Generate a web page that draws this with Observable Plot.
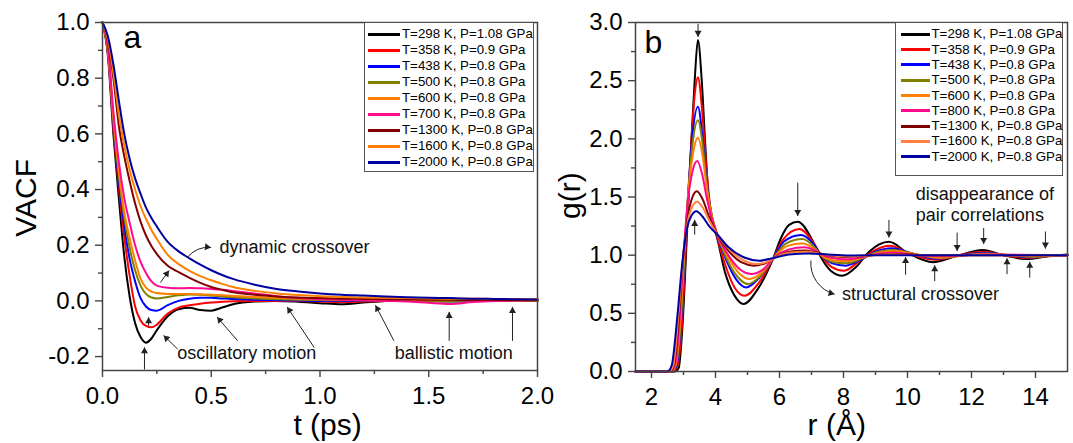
<!DOCTYPE html>
<html><head><meta charset="utf-8">
<script src="https://cdn.jsdelivr.net/npm/d3@7"></script>
<script src="https://cdn.jsdelivr.net/npm/@observablehq/plot@0.6"></script>
<style>
body{margin:0;background:#fff;font-family:"Liberation Sans",Arial,sans-serif;}
#wrap{position:relative;width:1073px;height:443px;overflow:hidden;background:#fff;}
#wrap svg{position:absolute;top:0;}
.legend{position:absolute;background:#fff;border:1px solid #555;box-sizing:border-box;font-size:13.3px;color:#000;}
.legend .sw{position:absolute;height:3px;}
.legend .tx{position:absolute;line-height:16px;white-space:nowrap;}
</style></head>
<body><div id="wrap"></div>
<script>
// ---------- Panel a: VACF ----------
const seriesA = ["T=298 K, P=1.08 GPa","T=358 K, P=0.9 GPa","T=438 K, P=0.8 GPa","T=500 K, P=0.8 GPa","T=600 K, P=0.8 GPa","T=700 K, P=0.8 GPa","T=1300 K, P=0.8 GPa","T=1600 K, P=0.8 GPa","T=2000 K, P=0.8 GPa"];
const colorsA = ["#000000","#ff0000","#0000ff","#808000","#ff8000","#ff0a8c","#800000","#ff8000","#0000a0"];
const tGrid = [0,0.025,0.05,0.075,0.1,0.125,0.15,0.175,0.2,0.225,0.25,0.3,0.35,0.4,0.45,0.5,0.55,0.6,0.7,0.8,0.9,1.0,1.1,1.2,1.3,1.4,1.5,1.6,1.7,1.8,1.9,2.0];
const vacf298  = [1.0,0.88,0.6,0.37,0.16,0.015,-0.08,-0.13,-0.15,-0.135,-0.105,-0.055,-0.03,-0.025,-0.033,-0.035,-0.024,-0.012,-0.002,0.0,-0.003,-0.008,-0.012,-0.006,0.0,0.002,0.0,-0.002,0.0,0.002,0.0,0.0];
const vacf358  = [1.0,0.89,0.62,0.41,0.23,0.09,-0.02,-0.07,-0.09,-0.095,-0.085,-0.045,-0.024,-0.016,-0.01,-0.006,-0.003,-0.001,0.0,0.0,0.0,-0.002,-0.004,-0.002,0.0,0.002,0.002,0.0,0.0,0.0,0.002,0.002];
const vacf438  = [1.0,0.9,0.64,0.43,0.27,0.15,0.07,0.01,-0.02,-0.033,-0.035,-0.015,0.0,0.008,0.011,0.011,0.009,0.007,0.004,0.002,0.001,0.0,0.0,0.001,0.002,0.002,0.001,0.0,0.001,0.002,0.002,0.002];
const vacf500  = [1.0,0.9,0.65,0.45,0.3,0.19,0.11,0.055,0.025,0.012,0.009,0.014,0.02,0.023,0.022,0.019,0.016,0.013,0.009,0.006,0.004,0.003,0.002,0.002,0.001,0.0,0.0,0.0,0.001,0.001,0.0,0.0];
const vacf600  = [1.0,0.9,0.66,0.47,0.32,0.225,0.145,0.08,0.048,0.033,0.028,0.025,0.025,0.025,0.024,0.022,0.02,0.018,0.014,0.011,0.008,0.006,0.005,0.004,0.004,0.004,0.005,0.006,0.007,0.007,0.006,0.006];
const vacf700  = [1.0,0.91,0.68,0.5,0.37,0.28,0.2,0.14,0.1,0.07,0.055,0.047,0.045,0.046,0.045,0.043,0.04,0.036,0.027,0.017,0.01,0.006,0.004,0.002,0.0,-0.002,-0.007,-0.011,-0.004,0.0,0.001,0.002];
const vacf1300 = [1.0,0.93,0.8,0.63,0.52,0.43,0.35,0.285,0.235,0.197,0.168,0.126,0.103,0.083,0.065,0.05,0.04,0.031,0.022,0.016,0.012,0.01,0.008,0.007,0.006,0.005,0.004,0.004,0.003,0.003,0.003,0.002];
const vacf1600 = [1.0,0.94,0.82,0.67,0.56,0.47,0.4,0.34,0.295,0.255,0.222,0.165,0.132,0.108,0.089,0.074,0.061,0.05,0.036,0.027,0.021,0.017,0.014,0.012,0.011,0.01,0.009,0.008,0.008,0.007,0.007,0.006];
const vacf2000 = [1.0,0.95,0.85,0.72,0.6,0.51,0.44,0.385,0.335,0.298,0.267,0.212,0.178,0.153,0.13,0.11,0.093,0.079,0.058,0.043,0.034,0.027,0.022,0.019,0.016,0.013,0.011,0.01,0.008,0.007,0.006,0.005];
const vacfAll = [vacf298,vacf358,vacf438,vacf500,vacf600,vacf700,vacf1300,vacf1600,vacf2000];

const xMajorA = [0,0.5,1,1.5,2], xMinorA = [0.25,0.75,1.25,1.75];
const yMajorA = [-0.2,0,0.2,0.4,0.6,0.8,1.0], yMinorA = [-0.1,0.1,0.3,0.5,0.7,0.9];

const arrowsA = [
  {x1:0.212,y1:-0.088,x2:0.212,y2:-0.06},
  {x1:0.267,y1:0.067,x2:0.305,y2:0.108},
  {x1:0.193,y1:-0.245,x2:0.193,y2:-0.168},
  {x1:0.344,y1:-0.172,x2:0.282,y2:-0.125},
  {x1:0.62,y1:-0.142,x2:0.528,y2:-0.059},
  {x1:0.972,y1:-0.166,x2:0.85,y2:-0.023},
  {x1:1.339,y1:-0.142,x2:1.256,y2:-0.017},
  {x1:1.594,y1:-0.142,x2:1.594,y2:-0.041},
  {x1:1.885,y1:-0.142,x2:1.885,y2:-0.023}
];
const curvedA = [{x1:0.39,y1:0.156,x2:0.497,y2:0.192}];
const notesA = [
  {x:0.538,y:0.194,text:"dynamic crossover"},
  {x:0.344,y:-0.188,text:"oscillatory motion"},
  {x:1.344,y:-0.189,text:"ballistic motion"}
];

// ---------- Panel b: g(r) ----------
const seriesB = ["T=298 K, P=1.08 GPa","T=358 K, P=0.9 GPa","T=438 K, P=0.8 GPa","T=500 K, P=0.8 GPa","T=600 K, P=0.8 GPa","T=800 K, P=0.8 GPa","T=1300 K, P=0.8 GPa","T=1600 K, P=0.8 GPa","T=2000 K, P=0.8 GPa"];
const colorsB = ["#000000","#ff0000","#0000ff","#808000","#ff8000","#ff0a8c","#800000","#ff8040","#0000a0"];
const gr298 = [[1.5,0],[2.72,0],[2.85,0.03],[2.97,0.4],[3.07,0.95],[3.16,1.5],[3.25,2.0],[3.35,2.5],[3.45,2.85],[3.57,2.5],[3.67,2.0],[3.78,1.5],[3.9,1.28],[4.03,1.17],[4.3,0.85],[4.6,0.65],[4.88,0.58],[5.3,0.7],[5.8,0.97],[6.05,1.15],[6.3,1.26],[6.57,1.288],[7.08,1.1],[7.3,0.98],[7.6,0.867],[7.97,0.824],[8.4,0.9],[8.8,1.03],[9.42,1.115],[10.0,1.02],[10.8,0.94],[11.5,0.99],[12.35,1.045],[13.0,1.0],[13.7,0.967],[14.4,0.99],[15,1.005]];
const gr358 = [[1.5,0],[2.68,0],[2.8,0.04],[2.95,0.4],[3.06,1.0],[3.15,1.5],[3.25,2.0],[3.37,2.43],[3.45,2.53],[3.58,2.25],[3.7,1.8],[3.82,1.45],[4.03,1.18],[4.3,0.92],[4.6,0.72],[4.91,0.651],[5.35,0.76],[5.8,0.97],[6.1,1.13],[6.62,1.225],[7.05,1.11],[7.3,1.0],[7.62,0.9],[8.02,0.867],[8.5,0.95],[8.9,1.03],[9.45,1.08],[10.1,1.01],[10.85,0.96],[11.6,1.0],[12.4,1.03],[13.0,1.0],[13.75,0.975],[14.5,0.995],[15,1.0]];
const gr438 = [[1.5,0],[2.65,0],[2.78,0.05],[2.93,0.45],[3.04,1.0],[3.14,1.5],[3.27,2.0],[3.45,2.275],[3.6,2.0],[3.72,1.65],[3.85,1.38],[4.05,1.17],[4.35,0.95],[4.65,0.79],[4.96,0.723],[5.35,0.8],[5.8,0.97],[6.15,1.12],[6.67,1.174],[7.05,1.1],[7.3,1.0],[7.65,0.93],[8.07,0.91],[8.6,0.97],[9.0,1.03],[9.5,1.06],[10.2,1.01],[10.9,0.97],[11.7,1.0],[12.4,1.02],[13.1,1.0],[13.8,0.98],[14.5,0.997],[15,1.0]];
const gr500 = [[1.5,0],[2.63,0],[2.76,0.05],[2.92,0.45],[3.03,1.0],[3.14,1.5],[3.28,1.95],[3.45,2.16],[3.6,1.95],[3.72,1.62],[3.86,1.37],[4.05,1.18],[4.35,0.97],[4.7,0.81],[5.01,0.752],[5.4,0.82],[5.8,0.97],[6.2,1.1],[6.72,1.139],[7.05,1.08],[7.3,1.0],[7.7,0.94],[8.1,0.93],[8.6,0.975],[9.1,1.03],[9.55,1.045],[10.3,1.005],[11.0,0.975],[11.8,1.0],[12.5,1.015],[13.2,1.0],[13.9,0.985],[14.6,0.998],[15,1.0]];
const gr600 = [[1.5,0],[2.62,0],[2.75,0.05],[2.9,0.45],[3.02,1.0],[3.14,1.5],[3.3,1.88],[3.45,2.01],[3.6,1.85],[3.73,1.57],[3.87,1.35],[4.05,1.18],[4.4,0.98],[4.75,0.84],[5.06,0.795],[5.45,0.85],[5.8,0.97],[6.25,1.08],[6.72,1.1],[7.05,1.06],[7.3,1.0],[7.7,0.955],[8.12,0.95],[8.6,0.98],[9.1,1.02],[9.6,1.035],[10.3,1.005],[11.0,0.98],[11.8,1.0],[12.5,1.01],[13.2,1.0],[13.9,0.99],[15,1.0]];
const gr800 = [[1.5,0],[2.6,0],[2.73,0.05],[2.88,0.45],[3.0,1.0],[3.13,1.45],[3.28,1.72],[3.43,1.81],[3.58,1.7],[3.72,1.5],[3.88,1.32],[4.05,1.18],[4.4,1.0],[4.8,0.87],[5.12,0.838],[5.5,0.88],[5.8,0.97],[6.3,1.05],[6.77,1.067],[7.1,1.04],[7.35,1.0],[7.8,0.97],[8.15,0.965],[8.6,0.985],[9.1,1.012],[9.6,1.02],[10.3,1.0],[11.0,0.99],[12.5,1.005],[15,1.0]];
const gr1300 = [[1.5,0],[2.57,0],[2.7,0.05],[2.85,0.45],[2.98,0.95],[3.12,1.3],[3.28,1.5],[3.42,1.55],[3.6,1.48],[3.8,1.33],[4.05,1.18],[4.4,1.04],[4.8,0.94],[5.22,0.91],[5.55,0.93],[5.8,0.97],[6.3,1.03],[6.82,1.04],[7.2,1.02],[7.5,1.0],[8.0,0.985],[8.5,0.99],[9.2,1.005],[9.7,1.01],[10.5,1.0],[15,1.0]];
const gr1600 = [[1.5,0],[2.55,0],[2.68,0.05],[2.83,0.45],[2.97,0.93],[3.12,1.27],[3.28,1.42],[3.42,1.46],[3.6,1.41],[3.8,1.3],[4.05,1.18],[4.4,1.06],[4.85,0.96],[5.27,0.924],[5.6,0.94],[5.8,0.97],[6.3,1.02],[6.85,1.03],[7.3,1.01],[8.0,0.99],[8.6,0.995],[9.5,1.005],[10.5,1.0],[15,1.0]];
const gr2000 = [[1.5,0],[2.5,0],[2.63,0.05],[2.8,0.45],[2.95,0.9],[3.1,1.22],[3.25,1.34],[3.4,1.377],[3.6,1.33],[3.8,1.25],[4.05,1.18],[4.4,1.07],[4.9,0.98],[5.37,0.953],[5.8,0.975],[6.3,1.005],[6.93,1.015],[7.5,1.005],[8.2,0.997],[9.5,1.0],[15,1.0]];
const grAll = [gr298,gr358,gr438,gr500,gr600,gr800,gr1300,gr1600,gr2000];

const xMajorB = [2,4,6,8,10,12,14], xMinorB = [3,5,7,9,11,13];
const yMajorB = [0,0.5,1,1.5,2,2.5,3], yMinorB = [0.25,0.75,1.25,1.75,2.25,2.75];

const arrowsB = [
  {x1:3.455,y1:2.985,x2:3.455,y2:2.88},
  {x1:3.35,y1:1.18,x2:3.35,y2:1.3},
  {x1:6.57,y1:1.62,x2:6.57,y2:1.34},
  {x1:9.42,y1:1.3,x2:9.42,y2:1.155},
  {x1:11.55,y1:1.19,x2:11.55,y2:1.04},
  {x1:12.38,y1:1.23,x2:12.38,y2:1.1},
  {x1:14.31,y1:1.2,x2:14.31,y2:1.06},
  {x1:9.94,y1:0.835,x2:9.94,y2:0.98},
  {x1:10.85,y1:0.78,x2:10.85,y2:0.91},
  {x1:13.11,y1:0.84,x2:13.11,y2:0.97},
  {x1:13.82,y1:0.81,x2:13.82,y2:0.94}
];
const curvedB = [{x1:6.98,y1:0.95,x2:7.71,y2:0.666}];
const notesB = [
  {x:7.95,y:0.666,text:"structural crossover"},
  {x:10.26,y:1.527,text:"disappearance of"},
  {x:10.26,y:1.34,text:"pair correlations"}
];

// ---------- drawing ----------
const FONT = "Liberation Sans, Arial, sans-serif";
const AX = "#444";
const ARW = "#222";
const fmt1 = d => d.toFixed(1);

const rowsA = vacfAll.map(vals => tGrid.map((t,i) => ({t, v: vals[i]})));
const rowsB = grAll.map(pts => pts.map(([r,g]) => ({r, g})));

function axes(xMaj, xMin, yMaj, yMin, xfmt, yfmt) {
  return [
    Plot.axisX({ticks: xMaj, tickSize: 7, tickPadding: 9, tickFormat: xfmt, fontSize: 24, stroke: AX, strokeWidth: 1.4, label: null}),
    Plot.axisX({ticks: xMin, tickSize: 4, tickFormat: () => "", stroke: AX, strokeWidth: 1.4, label: null}),
    Plot.axisY({ticks: yMaj, tickSize: 7, tickPadding: 6, tickFormat: yfmt, fontSize: 24, stroke: AX, strokeWidth: 1.4, label: null}),
    Plot.axisY({ticks: yMin, tickSize: 4, tickFormat: () => "", stroke: AX, strokeWidth: 1.4, label: null})
  ];
}

// filled arrowheads: a triangle symbol at each tip, rotated along the arrow's screen direction
function heads(list, bend, sx, sy) {
  return list.map(a => {
    const p1x = sx.apply(a.x1), p1y = sy.apply(a.y1), p2x = sx.apply(a.x2), p2y = sy.apply(a.y2);
    const th = Math.atan2(p2y - p1y, p2x - p1x) + bend * Math.PI / 180;
    const back = 3.6;
    return {x: sx.invert(p2x - back * Math.cos(th)), y: sy.invert(p2y - back * Math.sin(th)), angle: th * 180 / Math.PI + 90};
  });
}
function arrowMarks(straight, curved, bend, sx, sy) {
  const hs = heads(straight, 0, sx, sy).concat(heads(curved, bend, sx, sy));
  return [
    Plot.arrow(straight, {x1: "x1", y1: "y1", x2: "x2", y2: "y2", stroke: ARW, strokeWidth: 1, headLength: 0}),
    Plot.arrow(curved, {x1: "x1", y1: "y1", x2: "x2", y2: "y2", bend, stroke: ARW, strokeWidth: 1, headLength: 0}),
    Plot.dot(hs, {x: "x", y: "y", rotate: "angle", symbol: "triangle", r: 2.6, fill: ARW, stroke: "none"})
  ];
}

const WA = 560, HA = 443, mA = {l: 102, r: 23, t: 22, b: 73};
const domXA = [0, 2], domYA = [-0.25, 1.0];
const sxA = Plot.scale({x: {domain: domXA, range: [mA.l, WA - mA.r]}});
const syA = Plot.scale({y: {domain: domYA, range: [HA - mA.b, mA.t]}});

const plotA = Plot.plot({
  width: WA, height: HA, marginLeft: mA.l, marginRight: mA.r, marginTop: mA.t, marginBottom: mA.b,
  x: {domain: domXA, label: null},
  y: {domain: domYA, label: null},
  style: {fontFamily: FONT, background: "transparent", overflow: "visible"},
  marks: [
    ...axes(xMajorA, xMinorA, yMajorA, yMinorA, fmt1, fmt1),
    ...rowsA.map((rows, i) => Plot.line(rows, {x: "t", y: "v", stroke: colorsA[i], strokeWidth: 2, curve: "monotone-x"})),
    ...arrowMarks(arrowsA, curvedA, 30, sxA, syA),
    Plot.text(notesA, {x: "x", y: "y", text: "text", textAnchor: "start", lineAnchor: "middle", fontSize: 18, fill: "#111"}),
    Plot.text([{x: 0.097, y: 0.945, s: "a"}], {x: "x", y: "y", text: "s", textAnchor: "start", lineAnchor: "middle", fontSize: 32}),
    Plot.text([{x: 1.035, s: "t (ps)"}], {x: "x", text: "s", frameAnchor: "bottom", dy: 55, lineAnchor: "middle", fontSize: 30}),
    Plot.text([{y: 0.37, s: "VACF"}], {y: "y", text: "s", frameAnchor: "left", dx: -76, rotate: -90, textAnchor: "middle", lineAnchor: "middle", fontSize: 30}),
    Plot.frame({stroke: AX, strokeWidth: 1.5})
  ]
});

const WB = 513, HB = 443, mB = {l: 75, r: 6, t: 22, b: 72};
const domXB = [1.5, 15], domYB = [0, 3];
const sxB = Plot.scale({x: {domain: domXB, range: [mB.l, WB - mB.r]}});
const syB = Plot.scale({y: {domain: domYB, range: [HB - mB.b, mB.t]}});

const plotB = Plot.plot({
  width: WB, height: HB, marginLeft: mB.l, marginRight: mB.r, marginTop: mB.t, marginBottom: mB.b,
  x: {domain: domXB, label: null},
  y: {domain: domYB, label: null},
  style: {fontFamily: FONT, background: "transparent", overflow: "visible"},
  marks: [
    ...axes(xMajorB, xMinorB, yMajorB, yMinorB, d => String(d), fmt1),
    ...rowsB.map((rows, i) => Plot.line(rows, {x: "r", y: "g", stroke: colorsB[i], strokeWidth: 2, curve: "monotone-x"})),
    ...arrowMarks(arrowsB, curvedB, -40, sxB, syB),
    Plot.text(notesB, {x: "x", y: "y", text: "text", textAnchor: "start", lineAnchor: "middle", fontSize: 18, fill: "#111"}),
    Plot.text([{x: 1.78, y: 2.824, s: "b"}], {x: "x", y: "y", text: "s", textAnchor: "start", lineAnchor: "middle", fontSize: 32}),
    Plot.text([{x: 7.79, s: "r (Å)"}], {x: "x", text: "s", frameAnchor: "bottom", dy: 54, lineAnchor: "middle", fontSize: 30}),
    Plot.text([{y: 1.512, s: "g(r)"}], {y: "y", text: "s", frameAnchor: "left", dx: -65, rotate: -90, textAnchor: "middle", lineAnchor: "middle", fontSize: 30}),
    Plot.frame({stroke: AX, strokeWidth: 1.5})
  ]
});

const wrap = document.getElementById("wrap");
plotA.style.left = "0px";
plotB.style.left = "560px";
wrap.appendChild(plotA);
wrap.appendChild(plotB);

function legend(box, labels, colors) {
  const d = document.createElement("div");
  d.className = "legend";
  Object.assign(d.style, {left: box.left + "px", top: box.top + "px", width: box.w + "px", height: box.h + "px"});
  labels.forEach((lab, i) => {
    const cy = box.y0 + i * box.step - box.top;
    const sw = document.createElement("div");
    sw.className = "sw";
    Object.assign(sw.style, {left: (box.swL - box.left) + "px", width: box.swW + "px", top: (cy - 1.5) + "px", background: colors[i]});
    const tx = document.createElement("div");
    tx.className = "tx";
    tx.textContent = lab;
    Object.assign(tx.style, {left: (box.txL - box.left) + "px", top: (cy - 8) + "px"});
    d.appendChild(sw); d.appendChild(tx);
  });
  wrap.appendChild(d);
}
legend({left: 364, top: 22, w: 170, h: 150, y0: 33.3, step: 16, swL: 367, swW: 32, txL: 401}, seriesA, colorsA);
legend({left: 895, top: 22, w: 168, h: 154, y0: 33.3, step: 15.3, swL: 900, swW: 29, txL: 930.5}, seriesB, colorsB);
</script>
</body></html>
